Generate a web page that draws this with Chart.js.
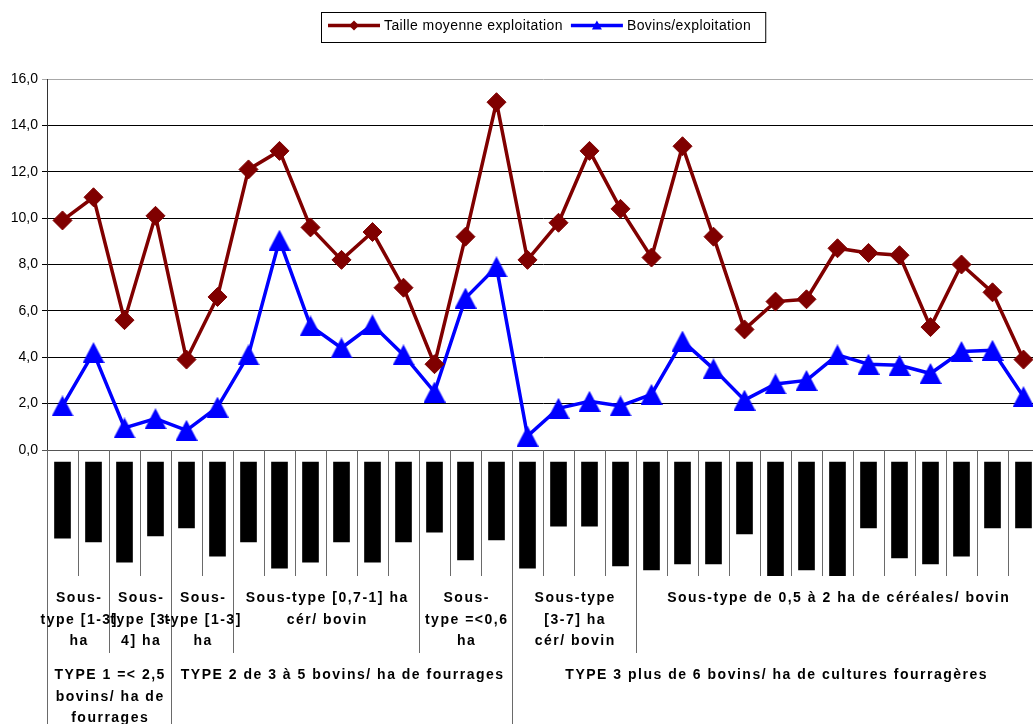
<!DOCTYPE html>
<html lang="fr">
<head>
<meta charset="utf-8">
<title>Taille moyenne et bovins par exploitation</title>
<script src="https://cdn.jsdelivr.net/npm/chart.js@4/dist/chart.umd.min.js"></script>
<style>
  html, body { margin: 0; padding: 0; background: #fff; overflow: hidden; }
  #wrap { position: relative; width: 1045px; height: 724px; }
  #chart { display: block; }
</style>
</head>
<body>
<div id="wrap"><canvas id="chart" width="1045" height="724"></canvas></div>
<script>
// One entry per holding, left to right
const categories = ['1', '2', '3', '4', '5', '6', '7', '8', '9', '10', '11', '12', '13', '14', '15', '16',
                    '17', '18', '19', '20', '21', '22', '23', '24', '25', '26', '27', '28', '29', '30', '31', '32'];

// Average farm size (ha)
const tailleMoyenne = [9.9, 10.9, 5.6, 10.1, 3.9, 6.6, 12.1, 12.9, 9.6, 8.2, 9.4, 7.0, 3.7, 9.2, 15.0, 8.2,
                       9.8, 12.9, 10.4, 8.3, 13.1, 9.2, 5.2, 6.4, 6.5, 8.7, 8.5, 8.4, 5.3, 8.0, 6.8, 3.9];

// Cattle per farm
const bovinsParExploitation = [1.9, 4.2, 0.95, 1.35, 0.85, 1.85, 4.1, 9.05, 5.35, 4.4, 5.4, 4.1, 2.5, 6.55, 7.9, 0.6,
                               1.8, 2.1, 1.9, 2.4, 4.7, 3.5, 2.15, 2.85, 3.0, 4.1, 3.7, 3.65, 3.3, 4.25, 4.3, 2.3];

// Length of each holding's (rotated) name block under the axis
const nameBlockLengths = [12.7, 13.3, 16.7, 12.3, 11.0, 15.7, 13.3, 17.7, 16.7, 13.3, 16.7, 13.3, 11.7, 16.3, 13.0, 17.7,
                          10.7, 10.7, 17.3, 18.0, 17.0, 17.0, 12.0, 19.0, 18.0, 19.0, 11.0, 16.0, 17.0, 15.7, 11.0, 11.0];

const yTickValues = [0, 2, 4, 6, 8, 10, 12, 14, 16];

// Sub-type groups: first and last holding index, and the wrapped label lines
const subTypeSpans = [[0, 1], [2, 3], [4, 5], [6, 11], [12, 14], [15, 18], [19, 31]];
const subTypeLabels = [
  ['Sous-', 'type [1-3]', 'ha'],
  ['Sous-', 'type [3-', '4] ha'],
  ['Sous-', 'type [1-3]', 'ha'],
  ['Sous-type [0,7-1] ha', 'cér/ bovin'],
  ['Sous-', 'type =<0,6', 'ha'],
  ['Sous-type', '[3-7] ha', 'cér/ bovin'],
  ['Sous-type de 0,5 à 2 ha de céréales/ bovin']
];

// Main types
const typeSpans = [[0, 3], [4, 14], [15, 31]];
const typeLabels = [
  ['TYPE 1 =< 2,5', 'bovins/ ha de', 'fourrages'],
  ['TYPE 2 de 3 à 5 bovins/ ha de fourrages'],
  ['TYPE 3 plus de 6 bovins/ ha de cultures fourragères']
];

const RED = '#800000';
const BLUE = '#0000ff';
const FONT = '"Liberation Sans", Arial, sans-serif';

// Upright triangle marker centred on its bounding box
function triangleImage(w, h, color) {
  const c = document.createElement('canvas');
  c.width = w; c.height = h;
  const g = c.getContext('2d');
  g.fillStyle = color;
  g.beginPath();
  g.moveTo(w / 2, 0);
  g.lineTo(w, h);
  g.lineTo(0, h);
  g.closePath();
  g.fill();
  return c;
}

// Framed legend with line + marker samples
const lineLegend = {
  id: 'lineLegend',
  afterDraw(chart) {
    const { ctx, chartArea } = chart;
    const items = chart.data.datasets.filter(d => d.type === 'line');
    ctx.save();
    ctx.font = '14px ' + FONT;
    ctx.letterSpacing = '0.4px';
    const widths = items.map(d => ctx.measureText(d.label).width);
    const padL = 7, sample = 52, gapText = 4, gapItem = 8, padR = 14;
    let total = padL + padR + gapItem * (items.length - 1);
    widths.forEach(w => { total += sample + gapText + w; });
    const left = Math.round((chartArea.left + chartArea.right) / 2 - total / 2);
    const top = 12, h = 30, cy = 25.5;
    ctx.strokeStyle = '#000';
    ctx.lineWidth = 1;
    ctx.strokeRect(left + 0.5, top + 0.5, total, h);
    let x = left + padL;
    items.forEach((d, i) => {
      ctx.strokeStyle = d.borderColor;
      ctx.lineWidth = 3.5;
      ctx.beginPath();
      ctx.moveTo(x, cy);
      ctx.lineTo(x + sample, cy);
      ctx.stroke();
      const mx = x + sample / 2;
      ctx.fillStyle = d.borderColor;
      ctx.beginPath();
      if (d.pointStyle === 'rectRot') {
        ctx.moveTo(mx, cy - 5); ctx.lineTo(mx + 5, cy); ctx.lineTo(mx, cy + 5); ctx.lineTo(mx - 5, cy);
      } else {
        ctx.moveTo(mx, cy - 5); ctx.lineTo(mx + 5, cy + 4); ctx.lineTo(mx - 5, cy + 4);
      }
      ctx.closePath();
      ctx.fill();
      x += sample + gapText;
      ctx.fillStyle = '#000';
      ctx.textAlign = 'left';
      ctx.textBaseline = 'middle';
      ctx.fillText(d.label, x, cy + 1);
      x += widths[i] + gapItem;
    });
    ctx.restore();
  }
};

// Category separators and the two-level grouping under the axis
const groupLabels = {
  id: 'groupLabels',
  afterDraw(chart) {
    const { ctx, scales: { x, y, yLab } } = chart;
    const n = categories.length;
    const step = (x.right - x.left) / n;
    const edge = i => Math.round(x.left + i * step) + 0.5;
    const axisY = y.bottom;
    const tickEnd = yLab.bottom;
    const subBottom = tickEnd + 77;
    const typeBottom = chart.height;
    const vline = (px, y0, y1) => { ctx.beginPath(); ctx.moveTo(px, y0); ctx.lineTo(px, y1); ctx.stroke(); };

    ctx.save();
    ctx.strokeStyle = '#6a6a6a';
    ctx.lineWidth = 1;
    for (let i = 1; i < n; i++) vline(edge(i), axisY, tickEnd);
    subTypeSpans.forEach(([a, b]) => { vline(edge(a), axisY, subBottom); vline(edge(b + 1), axisY, subBottom); });
    typeSpans.forEach(([a, b]) => { vline(edge(a), axisY, typeBottom); vline(edge(b + 1), axisY, typeBottom); });

    ctx.fillStyle = '#000';
    ctx.font = 'bold 14px ' + FONT;
    ctx.letterSpacing = '1.5px';
    ctx.textAlign = 'center';
    ctx.textBaseline = 'middle';
    const writeBlock = (spans, labels, rowTop) => {
      spans.forEach(([a, b], k) => {
        const cx = (edge(a) + edge(b + 1)) / 2 + 0.7;
        labels[k].forEach((txt, j) => ctx.fillText(txt, cx, rowTop + 22.5 + 21.5 * j));
      });
    };
    writeBlock(subTypeSpans, subTypeLabels, tickEnd);
    writeBlock(typeSpans, typeLabels, subBottom);
    ctx.restore();
  }
};

new Chart(document.getElementById('chart'), {
  data: {
    labels: categories,
    datasets: [
      {
        type: 'line',
        label: 'Taille moyenne exploitation',
        data: tailleMoyenne,
        yAxisID: 'y',
        borderColor: RED,
        backgroundColor: RED,
        borderWidth: 3.5,
        tension: 0,
        pointStyle: 'rectRot',
        pointRadius: 9.5,
        pointHoverRadius: 9.5,
        pointBorderWidth: 1,
        pointBackgroundColor: RED,
        pointBorderColor: RED
      },
      {
        type: 'line',
        label: 'Bovins/exploitation',
        data: bovinsParExploitation,
        yAxisID: 'y',
        borderColor: BLUE,
        backgroundColor: BLUE,
        borderWidth: 3.5,
        tension: 0,
        pointStyle: triangleImage(22, 21, BLUE),
        pointRadius: 11,
        pointHoverRadius: 11
      },
      {
        type: 'bar',
        label: 'Exploitations',
        data: nameBlockLengths,
        yAxisID: 'yLab',
        backgroundColor: '#000',
        borderWidth: 0,
        barThickness: 16
      }
    ]
  },
  options: {
    responsive: false,
    animation: false,
    events: [],
    layout: { autoPadding: false, padding: { top: 79, right: 6, bottom: 148, left: 0 } },
    plugins: {
      legend: { display: false },
      tooltip: { enabled: false }
    },
    scales: {
      x: {
        type: 'category',
        offset: true,
        display: false
      },
      y: {
        type: 'linear',
        position: 'left',
        stack: 'plot',
        stackWeight: 371,
        weight: 2,
        min: 0,
        max: 16,
        afterBuildTicks: s => { s.ticks = yTickValues.map(v => ({ value: v })); },
        afterFit: s => { s.width = 47; },
        ticks: {
          color: '#000',
          padding: 4,
          font: { family: FONT, size: 14 },
          callback: v => v.toFixed(1).replace('.', ',')
        },
        grid: {
          color: c => (c.tick && c.tick.value === 16 ? '#a8a8a8' : (c.tick && c.tick.value === 0 ? '#555' : '#000')),
          lineWidth: 1,
          tickLength: 5,
          drawTicks: true
        },
        border: { display: true, color: '#333', width: 1 }
      },
      yLab: {
        type: 'linear',
        position: 'left',
        stack: 'plot',
        stackWeight: 126,
        weight: 1,
        reverse: true,
        min: -2,
        max: 19,
        afterFit: s => { s.width = 47; },
        ticks: { display: false },
        grid: { display: false },
        border: { display: true, color: '#555', width: 1 }
      }
    }
  },
  plugins: [lineLegend, groupLabels]
});
</script>
</body>
</html>
